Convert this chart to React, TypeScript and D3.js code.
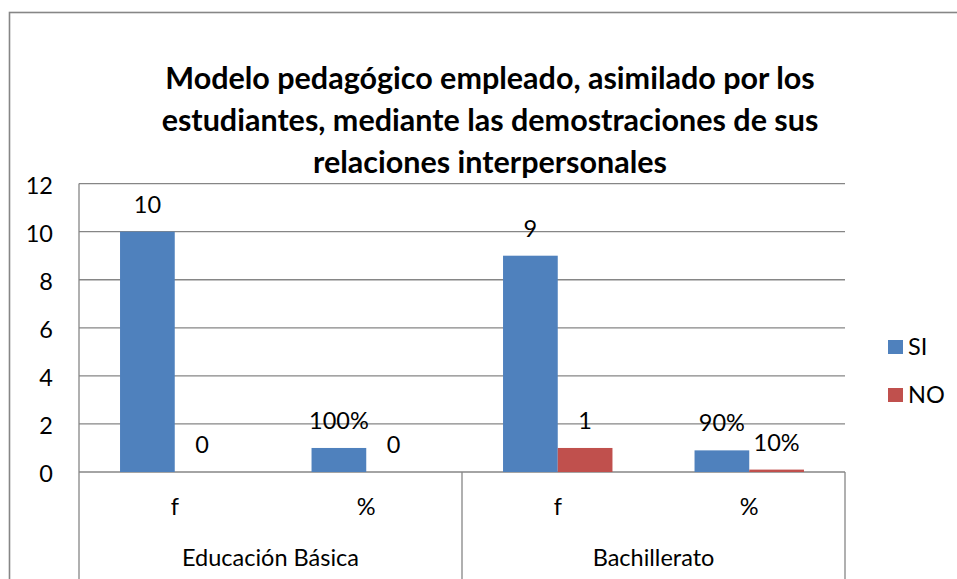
import React from "react";
import * as d3 from "d3";

const categories = ["f", "%", "f", "%"];
const groups = ["Educación Básica", "Bachillerato"];
const seriesNames = ["SI", "NO"];
const siValues = [10, 1, 9, 0.9];
const noValues = [0, 0, 1, 0.1];
const siLabels = ["10", "100%", "9", "90%"];
const noLabels = ["0", "0", "1", "10%"];
const yTicks = [0, 2, 4, 6, 8, 10, 12];
const titleLines = [
  "Modelo pedagógico empleado, asimilado por los",
  "estudiantes, mediante las demostraciones de sus",
  "relaciones interpersonales",
];

const colors = ["#4F81BD", "#C0504D"];
const gridColor = "#868686";
const FONT = "Lato, 'Open Sans', sans-serif";
const FS = 23.5;

export default function App() {
  const W = 957, H = 579;
  const left = 79, right = 845, top = 183.6, bottom = 472;
  const keys = categories.map((_, i) => String(i));
  const x = d3.scaleBand<string>().domain(keys).range([left, right]).padding(0);
  const xi = d3.scaleBand<string>().domain(seriesNames).range([0, x.bandwidth()]).paddingInner(0).paddingOuter(0.75);
  const y = d3.scaleLinear().domain([0, 12]).range([bottom, top]);
  const series = [
    { name: "SI", values: siValues, labels: siLabels },
    { name: "NO", values: noValues, labels: noLabels },
  ];
  const groupX = d3.scaleBand<string>().domain(groups).range([left, right]).padding(0);

  return (
    <svg width={W} height={H} style={{ position: "absolute", left: 0, top: 0, background: "#fff" }} fontFamily={FONT}>
      <rect x={0} y={0} width={W} height={H} fill="#fff" />
      <rect x={9.5} y={12.5} width={1000} height={700} fill="none" stroke={gridColor} strokeWidth={1.6} />
      {titleLines.map((t, i) => (
        <text key={i} x={490} y={89 + i * 42} textAnchor="middle" fontWeight="bold" fontSize={30.5} fill="#000">{t}</text>
      ))}
      {yTicks.map((t) => (
        <g key={t}>
          <line x1={left} x2={right} y1={y(t)} y2={y(t)} stroke={gridColor} strokeWidth={1.3} />
          <text x={53} y={y(t) + 10} textAnchor="end" fontSize={FS} fill="#000">{t}</text>
        </g>
      ))}
      <line x1={left} x2={left} y1={top} y2={H + 5} stroke={gridColor} strokeWidth={1.3} />
      {groups.map((g) => (
        <line key={g} x1={(groupX(g) as number) + groupX.bandwidth()} x2={(groupX(g) as number) + groupX.bandwidth()} y1={bottom} y2={H + 5} stroke={gridColor} strokeWidth={1.3} />
      ))}
      {series.map((s, si) =>
        s.values.map((v, i) => {
          const bx = (x(keys[i]) as number) + (xi(s.name) as number);
          return (
            <g key={s.name + i}>
              <rect x={bx} y={y(v)} width={xi.bandwidth()} height={bottom - y(v)} fill={colors[si]} />
              <text x={bx + xi.bandwidth() / 2} y={y(v) - 19} textAnchor="middle" fontSize={FS} fill="#000">{s.labels[i]}</text>
            </g>
          );
        })
      )}
      {categories.map((c, i) => (
        <text key={i} x={(x(keys[i]) as number) + x.bandwidth() / 2} y={515} textAnchor="middle" fontSize={FS} fill="#000">{c}</text>
      ))}
      {groups.map((g) => (
        <text key={g} x={(groupX(g) as number) + groupX.bandwidth() / 2} y={566} textAnchor="middle" fontSize={FS} fill="#000">{g}</text>
      ))}
      {series.map((s, si) => (
        <g key={s.name}>
          <rect x={888} y={340 + si * 48} width={15} height={14} fill={colors[si]} />
          <text x={908} y={354.5 + si * 48.5} fontSize={FS} fill="#000">{s.name}</text>
        </g>
      ))}
    </svg>
  );
}
